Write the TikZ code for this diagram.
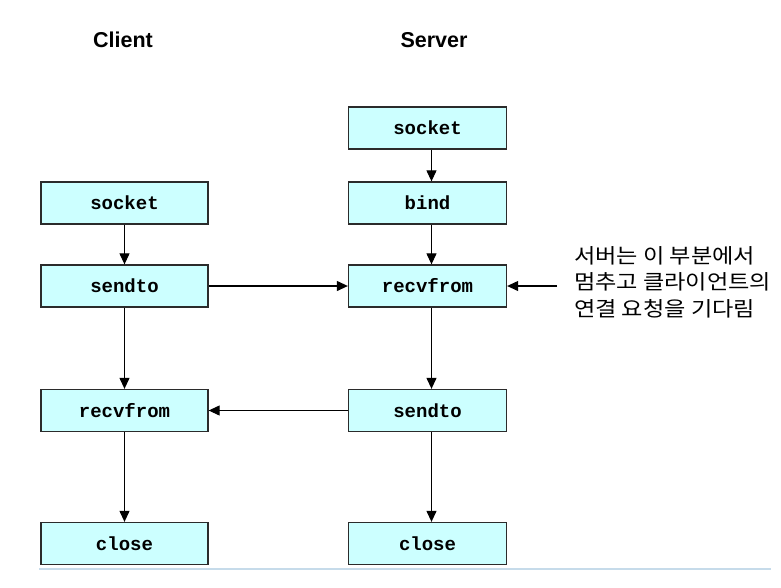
\documentclass[tikz,border=0pt]{standalone}
\usepackage{fontspec}
\setmainfont{Liberation Sans}
\setsansfont{Liberation Sans}
\setmonofont{Liberation Mono}
\newfontfamily\krfont[FakeStretch=1.13]{Noto Sans CJK KR}
\usetikzlibrary{arrows.meta}
\definecolor{boxfill}{HTML}{CCFFFF}
\definecolor{boxdraw}{HTML}{2B2B2B}
\definecolor{rulecol}{HTML}{C6DBEA}
\tikzset{
  fn/.style={draw=boxdraw, line width=1.3pt, fill=boxfill, minimum width=167pt, minimum height=42pt,
    inner sep=0pt, font=\fontsize{19}{20}\ttfamily\bfseries},
  sfn/.style={fn, minimum width=158pt},
  flow/.style={line width=1.1pt, -{Triangle[length=11pt,width=10pt]}},
  head/.style={font=\fontsize{21.5}{24}\sffamily\bfseries},
}
\begin{document}
\begin{tikzpicture}[x=1pt,y=-1pt]
\useasboundingbox (0,0) rectangle (781,587);
\node[head] (hc) at (123,40) {Client};
\node[head] (hs) at (434,40) {Server};
\node[sfn] (ssock) at (427.5,128) {socket};
\node[fn] (csock) at (124.5,203) {socket};
\node[sfn] (sbind) at (427.5,203) {bind};
\node[fn] (csend) at (124.5,286) {sendto};
\node[sfn] (srecv) at (427.5,286) {recvfrom};
\node[fn] (crecv) at (124.5,410.5) {recvfrom};
\node[sfn] (ssend) at (427.5,410.5) {sendto};
\node[fn] (cclose) at (124.5,543.5) {close};
\node[sfn] (sclose) at (427.5,543.5) {close};
\node[anchor=west, align=left, font=\krfont\fontsize{20.5}{26.5}\selectfont, inner sep=0pt] (note) at (574,282)
  {서버는 이 부분에서\\멈추고 클라이언트의\\연결 요청을 기다림};
\coordinate (ns) at (557,286);
\draw[flow] ([xshift=4pt]ssock.south) -- ([xshift=4pt]sbind.north);
\draw[flow] ([xshift=4pt]sbind.south) -- ([xshift=4pt]srecv.north);
\draw[flow] ([xshift=4pt]srecv.south) -- ([xshift=4pt]ssend.north);
\draw[flow] ([xshift=4pt]ssend.south) -- ([xshift=4pt]sclose.north);
\draw[flow] (csock) -- (csend);
\draw[flow] (csend) -- (crecv);
\draw[flow] (crecv) -- (cclose);
\draw[flow] (csend) -- (srecv);
\draw[flow] (ssend) -- (crecv);
\draw[flow] (ns) -- (srecv.east);
\coordinate (r1) at (39,569);
\coordinate (r2) at (771,569);
\draw[rulecol, line width=1.2pt] (r1) -- (r2);
\end{tikzpicture}
\end{document}
